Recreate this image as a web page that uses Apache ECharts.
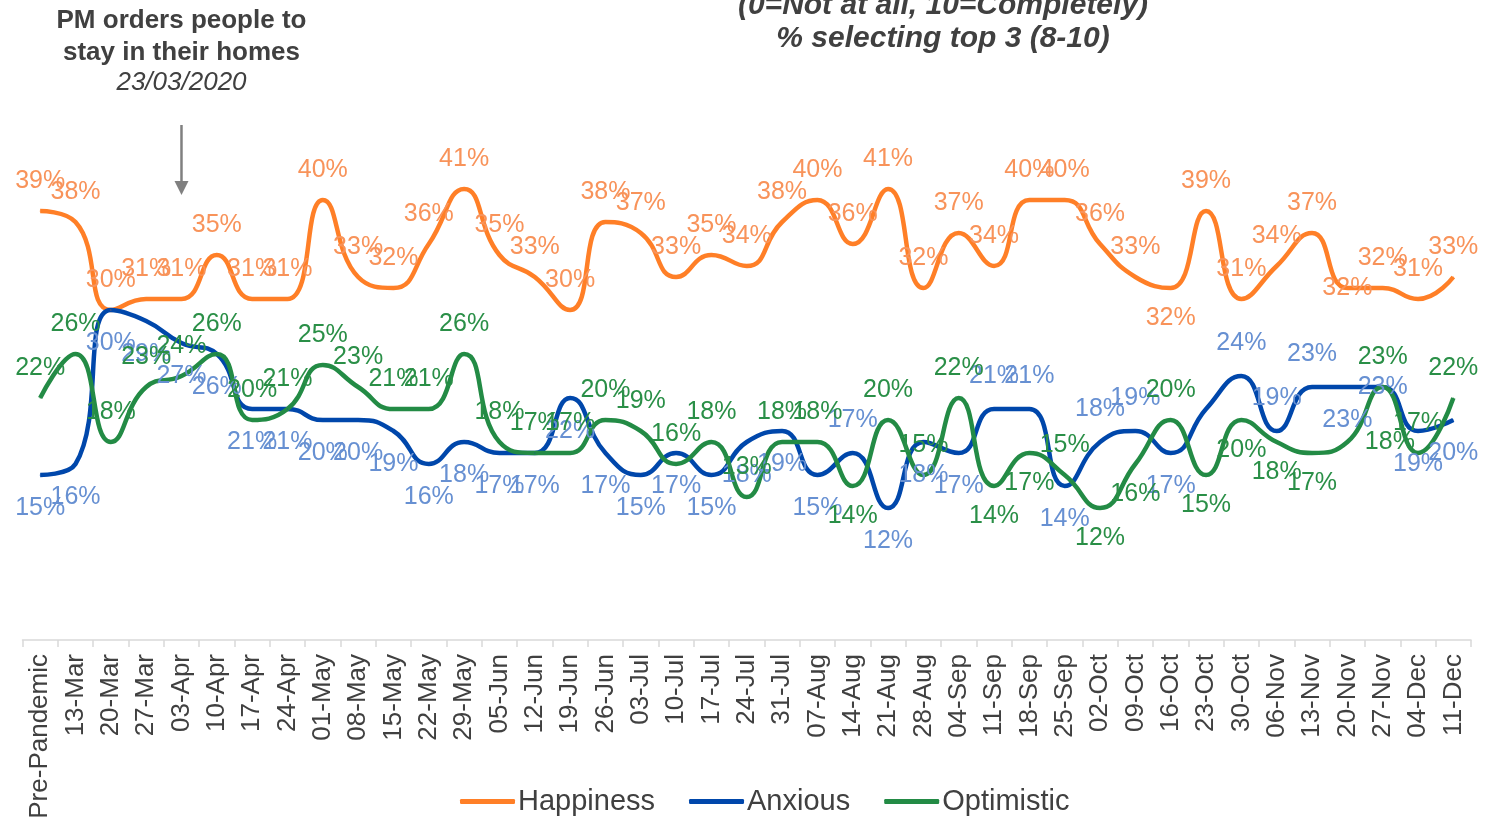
<!DOCTYPE html>
<html>
<head>
<meta charset="utf-8">
<title>Happiness, Anxious, Optimistic</title>
<script src="https://cdn.jsdelivr.net/npm/echarts@6/dist/echarts.min.js"></script>
<style>
  html, body { margin: 0; padding: 0; background: #fff; }
  #chart { width: 1506px; height: 825px; }
</style>
</head>
<body>
<div id="chart"></div>
<script>
// survey waves
var categories = ['Pre-Pandemic', '13-Mar', '20-Mar', '27-Mar', '03-Apr', '10-Apr', '17-Apr', '24-Apr',
  '01-May', '08-May', '15-May', '22-May', '29-May', '05-Jun', '12-Jun', '19-Jun', '26-Jun', '03-Jul',
  '10-Jul', '17-Jul', '24-Jul', '31-Jul', '07-Aug', '14-Aug', '21-Aug', '28-Aug', '04-Sep', '11-Sep',
  '18-Sep', '25-Sep', '02-Oct', '09-Oct', '16-Oct', '23-Oct', '30-Oct', '06-Nov', '13-Nov', '20-Nov',
  '27-Nov', '04-Dec', '11-Dec']

var happiness = [39, 38, 30, 31, 31, 35, 31, 31, 40, 33, 32, 36, 41, 35, 33, 30, 38, 37, 33, 35, 34,
  38, 40, 36, 41, 32, 37, 34, 40, 40, 36, 33, 32, 39, 31, 34, 37, 32, 32, 31, 33]
var anxious = [15, 16, 30, 29, 27, 26, 21, 21, 20, 20, 19, 16, 18, 17, 17, 22, 17, 15, 17, 15, 18,
  19, 15, 17, 12, 18, 17, 21, 21, 14, 18, 19, 17, 21, 24, 19, 23, 23, 23, 19, 20]
var optimistic = [22, 26, 18, 23, 24, 26, 20, 21, 25, 23, 21, 21, 26, 18, 17, 17, 20, 19, 16, 18, 13,
  18, 18, 14, 20, 15, 22, 14, 17, 15, 12, 16, 20, 15, 20, 18, 17, 18, 23, 17, 22]

// where a label sits off its default side (indexes into categories)
var labelMoves = {
  Happiness: { 32: 'bottom', 37: 'inside' },
  Anxious: { 23: 'top', 27: 'top', 28: 'top', 30: 'top', 31: 'top', 34: 'top', 35: 'top', 36: 'top', 38: 'inside' },
  Optimistic: { 23: 'bottom', 27: 'bottom', 28: 'bottom', 30: 'bottom', 31: 'bottom', 33: 'bottom',
    34: 'bottom', 35: 'bottom', 36: 'bottom', 37: 'right' }
}
var hiddenLabels = { Anxious: [33] }

var FONT = '"Liberation Sans", Arial, sans-serif'

function makeSeries(name, values, lineColor, labelColor, defaultPos) {
  var moves = labelMoves[name] || {}
  var hidden = hiddenLabels[name] || []
  var data = values.map(function (v, i) {
    var item = { value: v }
    if (moves[i]) item.label = { position: moves[i] }
    if (hidden.indexOf(i) > -1) item.label = { show: false }
    return item
  })
  return {
    name: name,
    type: 'line',
    smooth: 0.5,
    symbol: 'circle',
    symbolSize: 1,
    showSymbol: true,
    data: data,
    lineStyle: { color: lineColor, width: 4.5 },
    itemStyle: { color: lineColor },
    label: {
      show: true,
      position: defaultPos,
      distance: defaultPos === 'top' ? 17 : 20,
      formatter: '{c}%',
      color: labelColor,
      fontSize: 25,
      fontFamily: FONT
    },
    labelLayout: { hideOverlap: false },
    animation: false
  }
}

var chart = echarts.init(document.getElementById('chart'))

chart.setOption({
  backgroundColor: '#fff',
  grid: { left: 22.5, right: 35, top: 90, bottom: 185 },
  legend: {
    data: ['Happiness', 'Anxious', 'Optimistic'],
    left: 455,
    top: 782,
    icon: 'roundRect',
    itemWidth: 55,
    itemHeight: 5,
    itemGap: 34,
    textStyle: { fontSize: 29, color: '#404040', fontFamily: FONT, padding: [0, 0, 0, -2] }
  },
  xAxis: {
    type: 'category',
    data: categories,
    boundaryGap: true,
    axisLine: { lineStyle: { color: '#D9D9D9', width: 1.5 } },
    axisTick: { show: true, length: 7, lineStyle: { color: '#D9D9D9', width: 1.5 } },
    axisLabel: {
      interval: 0,
      rotate: 90,
      margin: 14,
      fontSize: 26,
      color: '#404040',
      fontFamily: FONT
    }
  },
  yAxis: {
    type: 'value',
    min: 0,
    max: 50,
    show: false,
    splitLine: { show: false }
  },
  series: [
    makeSeries('Happiness', happiness, '#FF7F27', '#F8935A', 'top'),
    makeSeries('Anxious', anxious, '#0047AB', '#6790D2', 'bottom'),
    makeSeries('Optimistic', optimistic, '#238B45', '#2A8F47', 'top')
  ]
})

// lockdown note and arrow sit over the 03-Apr wave
var noteX = chart.convertToPixel({ xAxisIndex: 0 }, '03-Apr')

chart.setOption({
  graphic: [
    {
      type: 'text',
      x: 943,
      y: -11,
      style: {
        text: '(0=Not at all, 10=Completely)\n% selecting top 3 (8-10)',
        font: 'italic bold 30px ' + FONT,
        fill: '#404040',
        align: 'center',
        lineHeight: 33
      }
    },
    {
      type: 'text',
      x: noteX,
      y: 5,
      style: {
        text: 'PM orders people to\nstay in their homes',
        font: 'bold 26px ' + FONT,
        fill: '#404040',
        align: 'center',
        lineHeight: 32
      }
    },
    {
      type: 'text',
      x: noteX,
      y: 70,
      style: {
        text: '23/03/2020',
        font: 'italic 26px ' + FONT,
        fill: '#404040',
        align: 'center'
      }
    },
    {
      type: 'line',
      shape: { x1: noteX, y1: 125, x2: noteX, y2: 182 },
      style: { stroke: '#808080', lineWidth: 2.5 }
    },
    {
      type: 'polygon',
      shape: { points: [[noteX - 7, 181], [noteX + 7, 181], [noteX, 195]] },
      style: { fill: '#808080' }
    }
  ]
})
</script>
</body>
</html>
